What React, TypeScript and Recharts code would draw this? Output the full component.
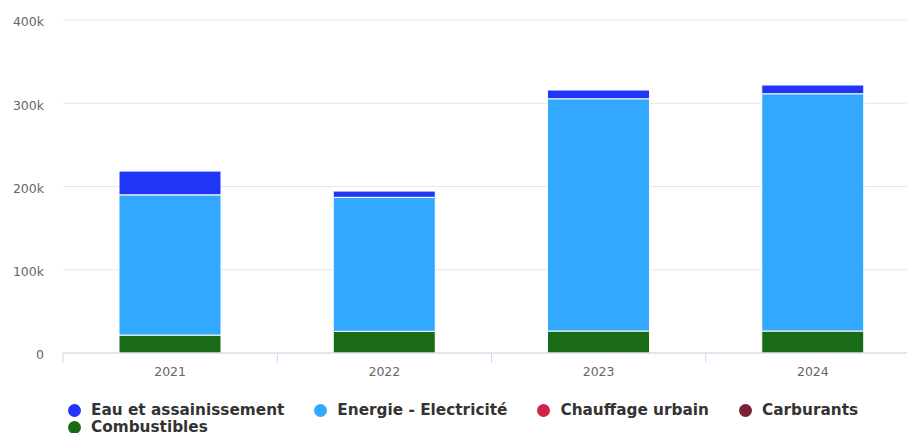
import React from 'react';
import { BarChart, Bar, XAxis, YAxis, CartesianGrid } from 'recharts';

const years = ['2021', '2022', '2023', '2024'];
const combustibles = [21500, 26000, 26400, 26400];
const carburants = [0, 0, 0, 0];
const chauffageUrbain = [0, 0, 0, 0];
const electricite = [168500, 161000, 279000, 285000];
const eauAssainissement = [28500, 7500, 10500, 10500];
const yTicks = [0, 100000, 200000, 300000, 400000];

const seriesStack = [
  { key: 'combustibles', name: 'Combustibles', color: '#1a6b18', values: combustibles },
  { key: 'carburants', name: 'Carburants', color: '#7b2234', values: carburants },
  { key: 'chauffage', name: 'Chauffage urbain', color: '#cf2549', values: chauffageUrbain },
  { key: 'electricite', name: 'Energie - Electricité', color: '#33a8ff', values: electricite },
  { key: 'eau', name: 'Eau et assainissement', color: '#2035f5', values: eauAssainissement },
];

const legendOrder = ['eau', 'electricite', 'chauffage', 'carburants', 'combustibles'];

const data = years.map((y, i) => {
  const row: Record<string, string | number> = { year: y };
  seriesStack.forEach((s) => {
    row[s.key] = s.values[i];
  });
  return row;
});

const CHART_W = 932;
const CHART_H = 433;
const M = { top: 20, right: 12, left: 0, bottom: 50 };
const Y_W = 63;
const PLOT_W = CHART_W - M.right - M.left - Y_W;
const BAND = PLOT_W / years.length;

const FONT = '"DejaVu Sans", sans-serif';

const XTick = (props: any) => {
  const { x, y, payload } = props;
  return (
    <g>
      <line x1={x - BAND / 2} x2={x - BAND / 2} y1={y} y2={y + 10} stroke="#ccd6eb" strokeWidth={1} />
      <text x={x} y={y + 19} dy="0.355em" textAnchor="middle" fill="#666666" fontSize={12.5} fontFamily={FONT}>
        {payload.value}
      </text>
    </g>
  );
};

const fmtK = (v: number) => (v === 0 ? '0' : `${v / 1000}k`);

export default function App() {
  return (
    <div style={{ position: 'fixed', left: 0, top: 0, width: 907, height: 433, overflow: 'hidden', background: '#fff' }}>
      <BarChart width={CHART_W} height={CHART_H} data={data} margin={M} barSize={102}>
        <CartesianGrid vertical={false} stroke="#e6e6e6" strokeWidth={1} />
        <XAxis
          dataKey="year"
          axisLine={{ stroke: '#ccd6eb', strokeWidth: 1 }}
          tickLine={false}
          tickSize={0}
          tickMargin={0}
          height={30}
          tick={<XTick />}
          interval={0}
        />
        <YAxis
          width={Y_W}
          domain={[0, 400000]}
          ticks={yTicks}
          tickFormatter={fmtK}
          axisLine={false}
          tickLine={false}
          tickSize={0}
          tickMargin={19}
          tick={{ fill: '#666666', fontSize: 12.5, fontFamily: FONT, dy: 2 }}
          interval={0}
        />
        {seriesStack.map((s) => (
          <Bar
            key={s.key}
            dataKey={s.key}
            name={s.name}
            stackId="a"
            fill={s.color}
            stroke="#ffffff"
            strokeWidth={1}
            isAnimationActive={false}
          />
        ))}
      </BarChart>
      <div
        style={{
          position: 'absolute',
          left: 68,
          top: 402,
          width: 860,
          display: 'flex',
          flexWrap: 'wrap',
          fontFamily: FONT,
          fontWeight: 'bold',
          fontSize: 15.3,
          color: '#333333',
          lineHeight: '17px',
        }}
      >
        {legendOrder.map((k) => {
          const s = seriesStack.find((x) => x.key === k)!;
          return (
            <div key={k} style={{ display: 'flex', alignItems: 'center', marginRight: 30, whiteSpace: 'nowrap' }}>
              <span
                style={{
                  display: 'inline-block',
                  width: 13,
                  height: 13,
                  borderRadius: '50%',
                  background: s.color,
                  marginRight: 10,
                }}
              />
              <span>{s.name}</span>
            </div>
          );
        })}
      </div>
    </div>
  );
}
